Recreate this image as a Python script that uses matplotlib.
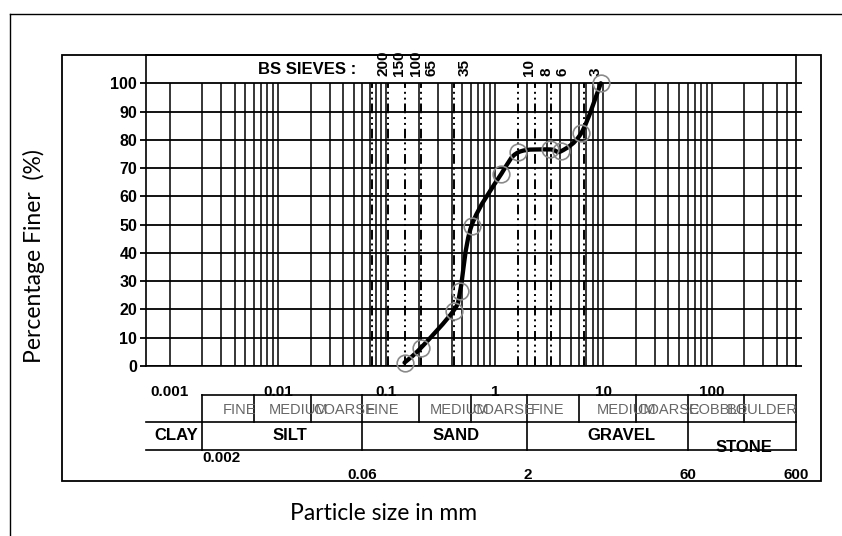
import numpy as np
import matplotlib
matplotlib.use("Agg")
import matplotlib.pyplot as plt
from matplotlib.path import Path
from matplotlib.patches import PathPatch, Rectangle
from matplotlib.lines import Line2D
from matplotlib.transforms import offset_copy

# grading curve (particle size in mm, percentage finer)
sizes = [0.147, 0.208, 0.417, 0.48, 0.61, 1.15, 1.651, 3.2, 4.1, 6.3, 9.5]
finer = [1.2, 6.4, 19.6, 26.7, 49.6, 68, 75.6, 76.6, 76, 82.5, 100]

# BS sieves
sieve_labels = ['200', '150', '100', '65', '35', '10', '8', '6', '3']
sieve_mm = [0.074, 0.104, 0.147, 0.208, 0.417, 1.651, 2.362, 3.327, 6.68]

# axis labels
x_ticks = [0.001, 0.01, 0.1, 1, 10, 100]
x_tick_labels = ['0.001', '0.01', '0.1', '1', '10', '100']
y_ticks = list(range(0, 101, 10))

# classification table
sub_bounds = [0.002, 0.006, 0.02, 0.06, 0.2, 0.6, 2, 6, 20, 60, 200, 600]
sub_labels = ['FINE', 'MEDIUM', 'COARSE', 'FINE', 'MEDIUM', 'COARSE',
              'FINE', 'MEDIUM', 'COARSE', 'COBBLE', 'BOULDER']
sub_label_x = [0.0031, 0.0082, 0.021, 0.0646, 0.25, 0.626,
               2.15, 8.7, 20.8, 60.3, 138]
main_bounds = [0.002, 0.06, 2, 60, 600]
main_labels = ['CLAY', 'SILT', 'SAND', 'GRAVEL', 'STONE']
main_label_x = [0.00116, 0.0128, 0.44, 14.8, 200]
bound_labels = ['0.002', '0.06', '2', '60', '600']

plt.rcParams['font.family'] = ['Liberation Sans', 'DejaVu Sans']

W, H = 842, 536
fig = plt.figure(figsize=(W / 100, H / 100), dpi=100)


def fx(px):
    return px / W


def fy(py):
    return 1 - py / H


ax_l, ax_r, ax_t, ax_b = 145.5, 796, 55, 366
ax = fig.add_axes([fx(ax_l), fy(ax_b), fx(ax_r - ax_l), (ax_b - ax_t) / H])
ax.set_xscale('log')
ax.set_xlim(0.0006, 600)
ax.set_ylim(0, 110)

for s in ax.spines.values():
    s.set_linewidth(1.2)

# grid
grid_x = [k * 10.0 ** n for n in range(-3, 3) for k in range(1, 10) if k * 10.0 ** n <= 500]
ax.vlines(grid_x, 0, 100, colors='black', lw=1.1, zorder=1)
ax.hlines(y_ticks, 0.0006, 600, colors='black', lw=1.3, zorder=1)

# sieve lines
ax.vlines(sieve_mm, 0, 100, colors='black', lw=1.4,
          linestyles=[(0, (5, 2, 1, 2, 1, 2))], zorder=2)
lab_tr = offset_copy(ax.transData, fig=fig, x=11, y=0, units='dots')
for lab, mm in zip(sieve_labels, sieve_mm):
    ax.text(mm, 102.5, lab, rotation=90, ha='center', va='bottom',
            fontsize=11, fontweight='bold', transform=lab_tr, clip_on=False)
ax.text(0.053, 105, 'BS SIEVES :', ha='right', va='center',
        fontsize=12, fontweight='bold')

# smooth curve through the points (bezier in log-x space)
u = np.log10(sizes)
v = np.array(finer, dtype=float)
n = len(u)
verts = [(u[0], v[0])]
codes = [Path.MOVETO]
for i in range(n - 1):
    i0 = max(i - 1, 0)
    i3 = min(i + 2, n - 1)
    c1 = (u[i] + (u[i + 1] - u[i0]) / 6, v[i] + (v[i + 1] - v[i0]) / 6)
    c2 = (u[i + 1] - (u[i3] - u[i]) / 6, v[i + 1] - (v[i3] - v[i]) / 6)
    verts += [c1, c2, (u[i + 1], v[i + 1])]
    codes += [Path.CURVE4] * 3
verts = [(10 ** a, b) for a, b in verts]
ax.add_patch(PathPatch(Path(verts, codes), fill=False, ec='black', lw=3.1,
                       zorder=4, capstyle='round'))
ax.plot(sizes, finer, 'o', mfc='none', mec='#8a8a8a', ms=12, mew=1.2, zorder=5,
        clip_on=False)

# ticks
ax.xaxis.set_minor_locator(matplotlib.ticker.NullLocator())
ax.set_xticks(x_ticks)
ax.set_xticklabels(x_tick_labels, fontsize=11, fontweight='bold')
ax.tick_params(axis='x', length=0, pad=14)
ax.set_yticks(y_ticks)
ax.set_yticklabels([str(t) for t in y_ticks], fontsize=11.5, fontweight='bold')
ax.tick_params(axis='y', length=4, width=1.3, pad=2, right=True, direction='out')
ax.tick_params(axis='y', which='major', labelright=False)


# classification table below the axis
tr = ax.get_xaxis_transform()


def yf(py):
    return (ax_b - py) / (ax_b - ax_t)


r0, r1, r2 = yf(395), yf(422), yf(450)
ax.plot([0.002, 600], [r0, r0], color='black', lw=1.2, transform=tr, clip_on=False)
ax.plot([0.0006, 600], [r1, r1], color='black', lw=1.2, transform=tr, clip_on=False)
ax.plot([0.0006, 600], [r2, r2], color='black', lw=1.2, transform=tr, clip_on=False)
for b in sub_bounds:
    ax.plot([b, b], [r0, r1], color='black', lw=1.2, transform=tr, clip_on=False)
for b in main_bounds:
    ax.plot([b, b], [r1, r2], color='black', lw=1.2, transform=tr, clip_on=False)
for lab, x in zip(sub_labels, sub_label_x):
    ax.text(x, yf(410), lab, ha='left', va='center', fontsize=10.5, color='#666666',
            transform=tr, clip_on=False)
for lab, x in zip(main_labels, main_label_x):
    yy = yf(448) if lab == 'STONE' else yf(436)
    ax.text(x, yy, lab, ha='center', va='center', fontsize=12, fontweight='bold',
            transform=tr, clip_on=False)
for lab, x in zip(bound_labels, main_bounds):
    if lab == '0.002':
        ax.text(x, yf(458), lab, ha='left', va='center', fontsize=11,
                fontweight='bold', transform=tr, clip_on=False)
    else:
        ax.text(x, yf(475), lab, ha='center', va='center', fontsize=11,
                fontweight='bold', transform=tr, clip_on=False)

# frames
fig.add_artist(Rectangle((fx(62), fy(481)), fx(821 - 62), (481 - 55) / H,
                         fill=False, ec='black', lw=1.3, transform=fig.transFigure))
fig.add_artist(Line2D([fx(10), fx(10)], [fy(14), 0], color='black', lw=1.0,
                      transform=fig.transFigure))
fig.add_artist(Line2D([fx(10), 1], [fy(14), fy(14)], color='black', lw=1.0,
                      transform=fig.transFigure))

fig.text(fx(34), fy(256), 'Percentage Finer  (%)', rotation=90, ha='center', va='center',
         fontsize=16.5, family=['Lato', 'DejaVu Sans'])
fig.text(fx(384), fy(513), 'Particle size in mm', ha='center', va='center',
         fontsize=16.5, family=['Lato', 'DejaVu Sans'])

fig.savefig('out.png', dpi=100)
